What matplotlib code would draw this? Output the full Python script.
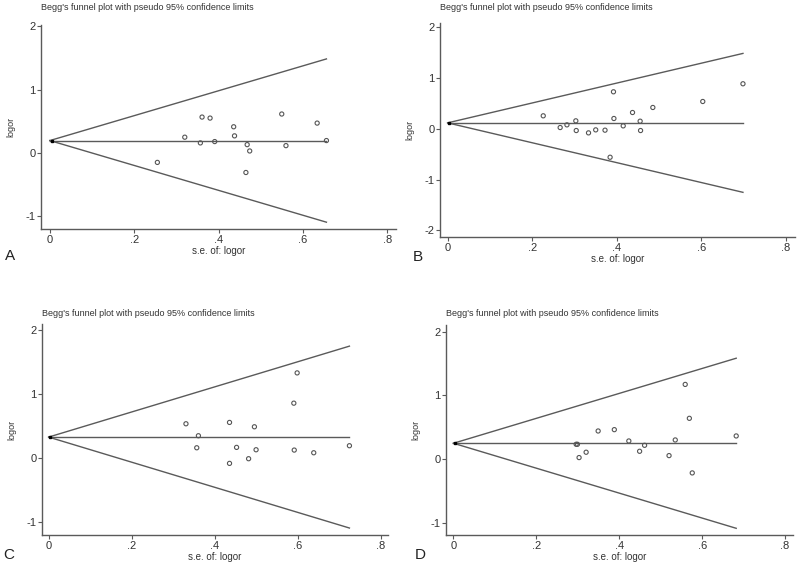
import matplotlib
matplotlib.use("Agg")
from matplotlib import pyplot as plt

plt.rcParams["font.family"] = ["Liberation Sans", "DejaVu Sans"]

# Begg's funnel plots, four panels (A-D)
se_a = [0.255, 0.320, 0.361, 0.380, 0.357, 0.391, 0.436, 0.438, 0.468, 0.474,
        0.465, 0.550, 0.560, 0.634, 0.656]
logor_a = [-0.148, 0.249, 0.566, 0.550, 0.159, 0.180, 0.413, 0.270, 0.132, 0.032,
           -0.307, 0.614, 0.116, 0.471, 0.196]
pooled_a = 0.196

se_b = [0.226, 0.266, 0.282, 0.303, 0.304, 0.333, 0.350, 0.372, 0.384, 0.392,
        0.393, 0.415, 0.437, 0.455, 0.456, 0.485, 0.603, 0.698]
logor_b = [0.257, 0.026, 0.079, 0.158, -0.033, -0.079, -0.020, -0.026, -0.559, 0.730,
           0.204, 0.059, 0.322, 0.151, -0.033, 0.421, 0.539, 0.888]
pooled_b = 0.118

se_c = [0.331, 0.361, 0.357, 0.436, 0.436, 0.453, 0.482, 0.496, 0.500, 0.591,
        0.599, 0.592, 0.639, 0.725]
logor_c = [0.541, 0.354, 0.166, 0.562, -0.078, 0.172, -0.005, 0.494, 0.135, 0.863,
           1.336, 0.130, 0.088, 0.198]
pooled_c = 0.333

se_d = [0.296, 0.299, 0.303, 0.320, 0.349, 0.388, 0.423, 0.449, 0.461, 0.520,
        0.535, 0.559, 0.569, 0.576, 0.682]
logor_d = [0.230, 0.230, 0.021, 0.105, 0.439, 0.460, 0.282, 0.120, 0.214, 0.052,
           0.298, 1.171, 0.638, -0.220, 0.361]
pooled_d = 0.246

xticks = [0, 0.2, 0.4, 0.6, 0.8]
xtick_labels = ["0", ".2", ".4", ".6", ".8"]

W, H = 800, 564
fig = plt.figure(figsize=(8, 5.64), dpi=100)

line_col = "#5a5a5a"
text_col = "#333333"

# letter, data, pixel box (left, right, top, bottom), limits, yticks, title y, letter pos
panels = [
    ("A", se_a, logor_a, pooled_a, (41, 396, 25, 229), (-0.021, 0.821), (-1.197, 2.016),
     [-1, 0, 1, 2], 7, (5, 256)),
    ("B", se_b, logor_b, pooled_b, (440, 795, 23, 237), (-0.018, 0.821), (-2.13, 2.085),
     [-2, -1, 0, 1, 2], 8, (413, 257)),
    ("C", se_c, logor_c, pooled_c, (42, 388, 324, 535), (-0.016, 0.818), (-1.197, 2.1),
     [-1, 0, 1, 2], 313, (3, 555)),
    ("D", se_d, logor_d, pooled_d, (446, 793, 325, 535), (-0.018, 0.819), (-1.196, 2.105),
     [-1, 0, 1, 2], 313, (415, 555)),
]

for letter, se, lo, pooled, box, xlim, ylim, yticks, title_y, letter_pos in panels:
    left, right, top, bottom = box
    ax = fig.add_axes([left / W, 1 - bottom / H, (right - left) / W, (bottom - top) / H])
    ax.set_xlim(*xlim)
    ax.set_ylim(*ylim)
    for side in ["top", "right"]:
        ax.spines[side].set_visible(False)
    for side in ["left", "bottom"]:
        ax.spines[side].set_color(line_col)
        ax.spines[side].set_linewidth(1.0)

    # funnel limits and pooled estimate
    max_se = max(se)
    ax.plot([0, max_se], [pooled, pooled + 1.96 * max_se], color=line_col, lw=1.0)
    ax.plot([0, max_se], [pooled, pooled - 1.96 * max_se], color=line_col, lw=1.0)
    ax.plot([0, max_se], [pooled, pooled], color=line_col, lw=1.0)
    ax.plot([0.004], [pooled], marker="s", color="black", markersize=1.8, ls="none")

    ax.scatter(se, lo, s=9, facecolors="none", edgecolors="#555555", linewidths=0.8, zorder=3)

    ax.set_xticks(xticks)
    ax.set_xticklabels(xtick_labels)
    ax.set_yticks(yticks)
    ax.set_yticklabels([str(t) for t in yticks])
    ax.tick_params(direction="out", length=3, width=0.8, colors=line_col,
                   labelcolor=text_col, labelsize=8, pad=1)

    fig.text(left / W, 1 - title_y / H, "Begg's funnel plot with pseudo 95% confidence limits",
             fontsize=6.5, color=text_col, va="center", ha="left")
    fig.text((left + right) / 2 / W, 1 - (bottom + 22) / H, "s.e. of: logor",
             fontsize=7, color=text_col, va="center", ha="center")
    fig.text((left - 30) / W, 1 - (top + bottom) / 2 / H, "logor", rotation=90,
             fontsize=6.5, color=text_col, va="center", ha="center")
    fig.text(letter_pos[0] / W, 1 - letter_pos[1] / H, letter,
             fontsize=11, color="#222222", va="center", ha="left")

plt.savefig("out.png", dpi=100)
